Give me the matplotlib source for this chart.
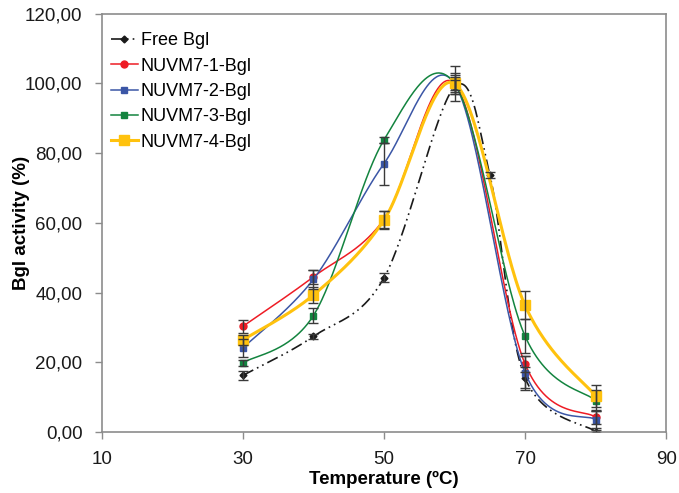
import numpy as np
import matplotlib
matplotlib.use("Agg")
import matplotlib.pyplot as plt
from matplotlib.lines import Line2D
from matplotlib.ticker import FuncFormatter

plt.rcParams['font.family'] = ['Liberation Sans', 'DejaVu Sans']

# Temperatures (ºC)
temps = [30, 40, 50, 60, 70, 80]
free_temps = [30, 40, 50, 60, 65, 70, 80]

# Relative activity (%) and standard deviations
free_bgl = [16.2, 27.4, 44.2, 99.0, 73.8, 15.5, 0.1]
free_err = [1.2, 0.6, 1.3, 2.0, 0.8, 3.0, 0.5]

nuvm1 = [30.3, 44.5, 61.0, 100.0, 19.5, 4.2]
nuvm1_err = [1.8, 2.0, 2.5, 2.5, 2.3, 2.0]

nuvm2 = [24.1, 43.8, 77.0, 100.0, 17.0, 3.5]
nuvm2_err = [2.5, 2.7, 6.0, 5.0, 4.9, 2.5]

nuvm3 = [19.8, 33.4, 83.8, 100.0, 27.5, 9.0]
nuvm3_err = [0.8, 2.2, 0.8, 2.0, 5.0, 3.0]

nuvm4 = [26.4, 39.3, 60.8, 100.0, 36.3, 10.3]
nuvm4_err = [1.5, 2.2, 2.7, 3.0, 4.0, 3.2]

labels = ['Free Bgl', 'NUVM7-1-Bgl', 'NUVM7-2-Bgl', 'NUVM7-3-Bgl', 'NUVM7-4-Bgl']
colors = ['#1a1a1a', '#ee1c25', '#3b56a6', '#13843f', '#ffc20e']

fig = plt.figure(figsize=(6.79, 4.93), dpi=100)
ax = fig.add_axes([0.150, 0.124, 0.831, 0.848])
ax.set_xlim(10, 90)
ax.set_ylim(0, 120)


def smooth(ax, x, y, n=60):
    """Bezier smoothing in display space (spreadsheet-style smoothed line)."""
    pts = ax.transData.transform(np.column_stack([x, y]))
    out = [pts[0]]
    t = np.linspace(0, 1, n)[1:, None]
    for i in range(len(pts) - 1):
        p0 = pts[max(i - 1, 0)]
        p1 = pts[i]
        p2 = pts[i + 1]
        p3 = pts[min(i + 2, len(pts) - 1)]
        c1 = p1 + (p2 - p0) / 6.0
        c2 = p2 - (p3 - p1) / 6.0
        seg = ((1 - t) ** 3) * p1 + 3 * ((1 - t) ** 2) * t * c1 \
            + 3 * (1 - t) * t ** 2 * c2 + t ** 3 * p2
        out.extend(seg)
    out = np.array(out)
    return ax.transData.inverted().transform(out)


dashdotdot = (0, (7, 2.5, 1, 2.5, 1, 2.5))
series = [
    (free_temps, free_bgl, free_err, colors[0], 'D', 3.5, 1.2, dashdotdot),
    (temps, nuvm1, nuvm1_err, colors[1], 'o', 5.0, 1.1, '-'),
    (temps, nuvm2, nuvm2_err, colors[2], 's', 5.0, 1.1, '-'),
    (temps, nuvm3, nuvm3_err, colors[3], 's', 4.5, 1.1, '-'),
    (temps, nuvm4, nuvm4_err, colors[4], 's', 7.0, 2.2, '-'),
]

handles = []
for k, (x, y, e, c, m, ms, lw, ls) in enumerate(series):
    curve = smooth(ax, x, y)
    ax.plot(curve[:, 0], curve[:, 1], color=c, lw=lw, ls=ls, zorder=2 + k)
    ax.plot(x, y, ls='none', marker=m, ms=ms, color=c, mec=c, zorder=2 + k)
    ax.errorbar(x, y, yerr=e, fmt='none', ecolor='#3a3a3a', elinewidth=1.0,
                capsize=3.3, capthick=1.0, zorder=10)
    handles.append(Line2D([0], [0], color=c, lw=lw, ls=ls, marker=m, ms=ms,
                          mec=c))

ax.legend(handles, labels, loc='upper left', bbox_to_anchor=(0.003, 0.973),
          frameon=False, fontsize=13, handlelength=1.5, handletextpad=0.15,
          labelspacing=0.46, borderaxespad=0)

ax.set_xticks([10, 30, 50, 70, 90])
ax.set_yticks(np.arange(0, 121, 20))
ax.yaxis.set_major_formatter(FuncFormatter(lambda v, p: f"{v:.2f}".replace('.', ',')))

for s in ax.spines.values():
    s.set_color('#8c8c8c')
    s.set_linewidth(1.2)
ax.tick_params(axis='both', direction='out', length=5, width=1, color='#8c8c8c',
               labelsize=13.5, labelcolor='#1a1a1a')
ax.tick_params(axis='y', pad=9)
ax.tick_params(axis='x', pad=9)

ax.set_xlabel('Temperature (ºC)', fontsize=13.5, fontweight='bold')
ax.set_ylabel('Bgl activity (%)', fontsize=13.5, fontweight='bold')
ax.xaxis.set_label_coords(0.5, -0.093)
ax.yaxis.set_label_coords(-0.128, 0.5)

fig.savefig('out.png', dpi=100)
